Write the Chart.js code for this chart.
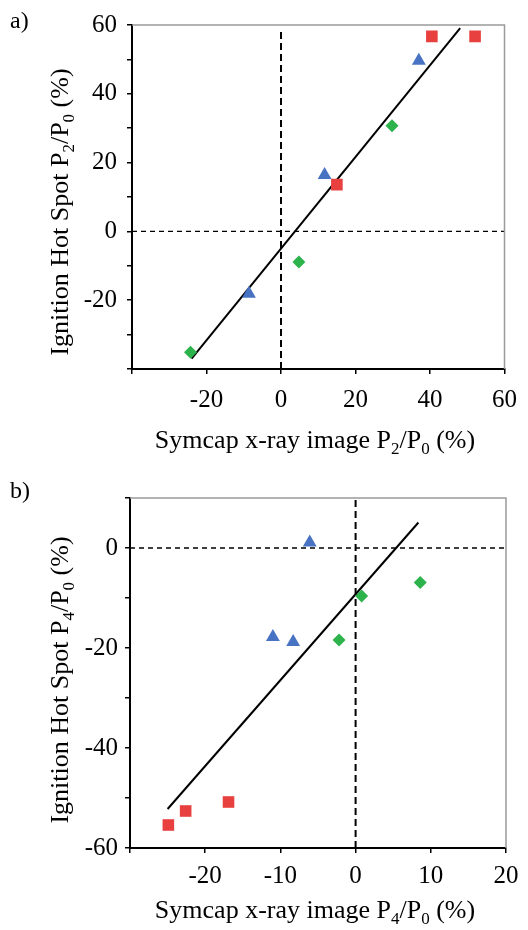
<!DOCTYPE html>
<html>
<head>
<meta charset="utf-8">
<script src="https://cdn.jsdelivr.net/npm/chart.js@4.4.1/dist/chart.umd.min.js"></script>
<style>
  body { margin: 0; background: #fff; }
  .panel { position: relative; width: 528px; height: 465px; }
  canvas { display: block; }
</style>
</head>
<body>
<div class="panel"><canvas id="chartA" width="528" height="465"></canvas></div>
<div class="panel"><canvas id="chartB" width="528" height="465"></canvas></div>
<script>
// Panel a) - P2/P0
const aRedX = [40.5, 52.1, 15.0];
const aRedY = [56.7, 56.7, 13.6];
const aBlueX = [37.0, 11.7, -8.6];
const aBlueY = [49.6, 16.4, -18.1];
const aGreenX = [29.8, 4.8, -24.3];
const aGreenY = [30.7, -8.9, -35.1];
const aFitX = [-24.0, 48.1];
const aFitY = [-37.0, 59.1];

// Panel b) - P4/P0
const bRedX = [-24.9, -22.6, -16.9];
const bRedY = [-55.4, -52.6, -50.8];
const bBlueX = [-6.1, -11.0, -8.3];
const bBlueY = [1.1, -17.8, -18.8];
const bGreenX = [0.8, 8.6, -2.2];
const bGreenY = [-9.6, -6.9, -18.4];
const bFitX = [-25.0, 8.35];
const bFitY = [-52.2, 5.1];

// axis ranges and labelled ticks
const aXRange = [-40, 60], aXStep = 20, aXLabels = [-20, 0, 20, 40, 60];
const aYRange = [-40, 60], aYStep = 10, aYLabels = [-20, 0, 20, 40, 60];
const bXRange = [-30, 20], bXStep = 10, bXLabels = [-20, -10, 0, 10, 20];
const bYRange = [-60, 10], bYStep = 10, bYLabels = [-60, -40, -20, 0];

const SERIF = '"Liberation Serif", "Times New Roman", serif';
const RED = '#e8403e';
const BLUE = '#4872c2';
const GREEN = '#2db34b';

function pts(xs, ys) {
    return xs.map((x, i) => ({ x: x, y: ys[i] }));
}

// draws text with subscript parts, centred on (cx, baseline)
function drawRich(ctx, parts, cx, cy, size, rotate) {
    ctx.save();
    ctx.translate(cx, cy);
    if (rotate) ctx.rotate(-Math.PI / 2);
    const subSize = Math.round(size * 0.65);
    let total = 0;
    parts.forEach(p => {
        ctx.font = (p[1] ? subSize : size) + 'px ' + SERIF;
        total += ctx.measureText(p[0]).width;
    });
    let x = -total / 2;
    ctx.fillStyle = '#000';
    ctx.textBaseline = 'alphabetic';
    ctx.textAlign = 'left';
    parts.forEach(p => {
        ctx.font = (p[1] ? subSize : size) + 'px ' + SERIF;
        ctx.fillText(p[0], x, p[1] ? size * 0.22 : 0);
        x += ctx.measureText(p[0]).width;
    });
    ctx.restore();
}

function makeChart(id, cfg) {
    const decor = {
        id: 'decor',
        afterDraw(chart) {
            const ctx = chart.ctx;
            const a = chart.chartArea;
            // grey top and right frame
            ctx.save();
            ctx.strokeStyle = '#9a9a9a';
            ctx.lineWidth = 1.5;
            ctx.beginPath();
            ctx.moveTo(a.left, a.top);
            ctx.lineTo(a.right, a.top);
            ctx.lineTo(a.right, a.bottom);
            ctx.stroke();
            ctx.restore();
            // panel letter
            ctx.save();
            ctx.font = '24px ' + SERIF;
            ctx.fillStyle = '#000';
            ctx.fillText(cfg.letter, 10, cfg.letterY);
            ctx.restore();
            drawRich(ctx, cfg.yTitle, cfg.yTitlePos[0], cfg.yTitlePos[1], 26, true);
            drawRich(ctx, cfg.xTitle, cfg.xTitlePos[0], cfg.xTitlePos[1], 26, false);
        }
    };

    const tickFont = { family: SERIF, size: 25 };

    return new Chart(document.getElementById(id), {
        type: 'scatter',
        data: {
            datasets: [
                { data: pts(cfg.redX, cfg.redY), pointStyle: 'rect', pointRadius: 8.2, backgroundColor: RED, borderWidth: 0, order: 0 },
                { data: pts(cfg.blueX, cfg.blueY), pointStyle: 'triangle', pointRadius: 8, backgroundColor: BLUE, borderWidth: 0, order: 0 },
                { data: pts(cfg.greenX, cfg.greenY), pointStyle: 'rectRot', pointRadius: 6.5, backgroundColor: GREEN, borderWidth: 0, order: 0 },
                { type: 'line', data: pts(cfg.fitX, cfg.fitY), borderColor: '#000', borderWidth: 2, pointRadius: 0, order: 1 },
                { type: 'line', data: cfg.vDash, borderColor: '#000', borderWidth: 2, borderDash: [7, 4], pointRadius: 0, order: 2 },
                { type: 'line', data: cfg.hDash, borderColor: '#000', borderWidth: 1.3, borderDash: [5, 4], pointRadius: 0, order: 2 }
            ]
        },
        options: {
            responsive: false,
            animation: false,
            layout: { padding: { top: cfg.top, right: 22, left: 0, bottom: 0 } },
            plugins: { legend: { display: false }, tooltip: { enabled: false } },
            scales: {
                x: {
                    type: 'linear',
                    min: cfg.xRange[0], max: cfg.xRange[1],
                    afterFit(s) { s.height = cfg.xAxisH; },
                    border: { color: '#000', width: 2 },
                    grid: { drawOnChartArea: false, tickLength: 5, color: '#000', lineWidth: 1.5 },
                    ticks: {
                        stepSize: cfg.xStep, font: tickFont, color: '#000', padding: cfg.xPad, maxRotation: 0,
                        callback: v => cfg.xLabels.includes(v) ? String(v) : ''
                    }
                },
                y: {
                    type: 'linear',
                    min: cfg.yRange[0], max: cfg.yRange[1],
                    afterFit(s) { s.width = cfg.yAxisW; },
                    border: { color: '#000', width: 2 },
                    grid: { drawOnChartArea: false, tickLength: 5, color: '#000', lineWidth: 1.5 },
                    ticks: {
                        stepSize: cfg.yStep, font: tickFont, color: '#000', padding: cfg.yPad,
                        callback: v => cfg.yLabels.includes(v) ? String(v) : ''
                    }
                }
            }
        },
        plugins: [decor]
    });
}

makeChart('chartA', {
    redX: aRedX, redY: aRedY, blueX: aBlueX, blueY: aBlueY, greenX: aGreenX, greenY: aGreenY,
    fitX: aFitX, fitY: aFitY,
    vDash: [{ x: 0, y: -40 }, { x: 0, y: 58 }],
    hDash: [{ x: aXRange[0], y: 0 }, { x: aXRange[1], y: 0 }],
    xRange: aXRange, xStep: aXStep, xLabels: aXLabels,
    yRange: aYRange, yStep: aYStep, yLabels: aYLabels,
    top: 25, xAxisH: 96, yAxisW: 132, xPad: 11, yPad: 10,
    letter: 'a)', letterY: 28,
    yTitle: [['Ignition Hot Spot P', false], ['2', true], ['/P', false], ['0', true], [' (%)', false]],
    yTitlePos: [68, 212],
    xTitle: [['Symcap x-ray image P', false], ['2', true], ['/P', false], ['0', true], [' (%)', false]],
    xTitlePos: [315, 448]
});

makeChart('chartB', {
    redX: bRedX, redY: bRedY, blueX: bBlueX, blueY: bBlueY, greenX: bGreenX, greenY: bGreenY,
    fitX: bFitX, fitY: bFitY,
    vDash: [{ x: 0, y: bYRange[0] }, { x: 0, y: bYRange[1] }],
    hDash: [{ x: bXRange[0], y: 0 }, { x: bXRange[1], y: 0 }],
    xRange: bXRange, xStep: bXStep, xLabels: bXLabels,
    yRange: bYRange, yStep: bYStep, yLabels: bYLabels,
    top: 33, xAxisH: 82, yAxisW: 130, xPad: 8, yPad: 7,
    letter: 'b)', letterY: 33,
    yTitle: [['Ignition Hot Spot P', false], ['4', true], ['/P', false], ['0', true], [' (%)', false]],
    yTitlePos: [68, 215],
    xTitle: [['Symcap x-ray image P', false], ['4', true], ['/P', false], ['0', true], [' (%)', false]],
    xTitlePos: [315, 453]
});
</script>
</body>
</html>
